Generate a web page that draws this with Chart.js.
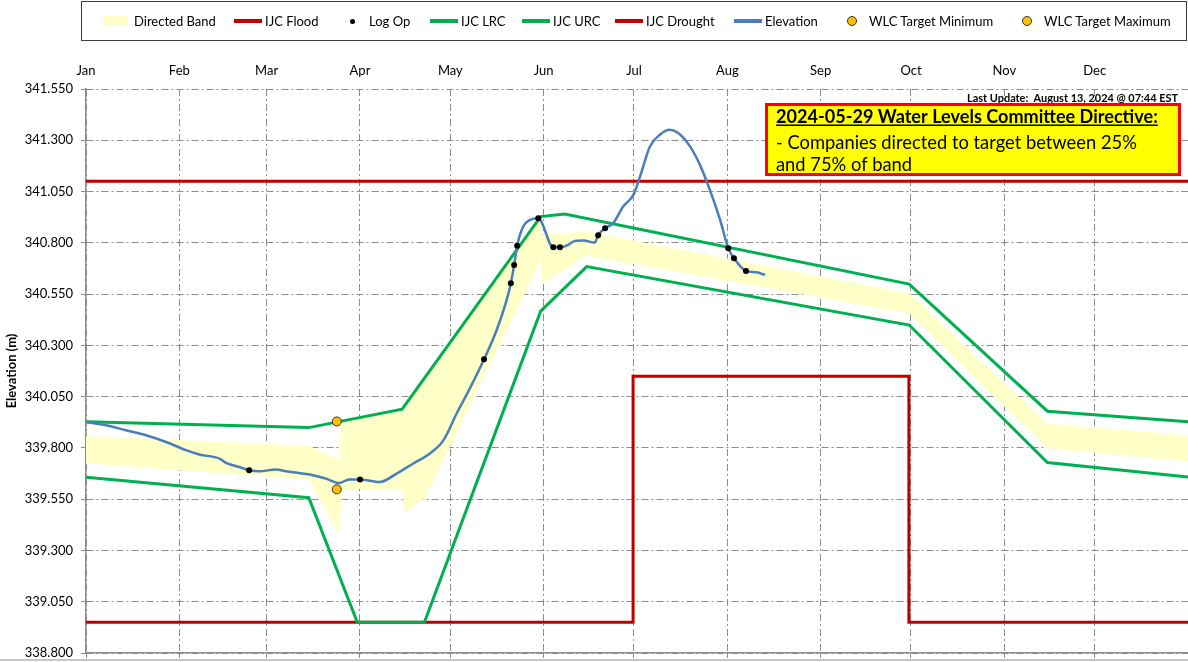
<!DOCTYPE html>
<html>
<head>
<meta charset="utf-8">
<title>Water Levels - Elevation</title>
<script src="https://cdn.jsdelivr.net/npm/chart.js@4.4.1/dist/chart.umd.min.js"></script>
<style>
  body { margin: 0; background: #fff; }
  #wrap { position: relative; width: 1188px; height: 662px; overflow: hidden; }
  #levelsChart { position: absolute; left: 0; top: 0; }
  #legend {
    position: absolute; left: 81px; top: 1px; width: 1106px; height: 40px;
    border: 1.5px solid #3c3c3c; box-sizing: border-box;
    font-family: Lato, "Open Sans", sans-serif; font-size: 13px; color: #000;
  }
  .item { position: absolute; top: 0; height: 100%; display: flex; align-items: center; white-space: nowrap; }
  .mark { width: 28px; height: 12px; position: relative; margin-right: 3px; flex: none; }
  .mark.band::after { content: ''; position: absolute; left: 0; top: 1px; width: 25px; height: 10px; background: var(--c); }
  .mark.line::after { content: ''; position: absolute; left: 0; top: 4px; width: 28px; height: 4px; background: var(--c); }
  .mark.dot::after { content: ''; position: absolute; left: 12px; top: 4px; width: 5px; height: 5px; border-radius: 50%; background: var(--c); }
  .mark.target::after { content: ''; position: absolute; left: 9px; top: 1px; width: 8px; height: 8px; border-radius: 50%; background: var(--c); border: 1px solid #333; }
</style>
</head>
<body>
<div id="wrap">
  <canvas id="levelsChart" width="1188" height="662"></canvas>
  <div id="legend"></div>
</div>
<script>
// axis ticks (day of year, 2024)
const monthNames = ['Jan', 'Feb', 'Mar', 'Apr', 'May', 'Jun', 'Jul', 'Aug', 'Sep', 'Oct', 'Nov', 'Dec'];
const monthStarts = [0, 31, 60, 91, 121, 152, 182, 213, 244, 274, 305, 335];
const yTicks = [338.8, 339.05, 339.3, 339.55, 339.8, 340.05, 340.3, 340.55, 340.8, 341.05, 341.3, 341.55];

// IJC limits
const floodDays = [0, 366];
const floodLevels = [341.10, 341.10];
const droughtDays = [0, 181.7, 181.7, 273.3, 273.3, 366];
const droughtLevels = [338.95, 338.95, 340.15, 340.15, 338.95, 338.95];
const urcDays = [0, 74, 105, 151, 159, 273.4, 319.3, 366];
const urcLevels = [339.928, 339.899, 339.989, 340.928, 340.940, 340.599, 339.979, 339.927];
const lrcDays = [0, 74, 90.1, 112.4, 151, 166.3, 273.4, 319.3, 366];
const lrcLevels = [339.657, 339.557, 338.95, 338.95, 340.467, 340.684, 340.399, 339.729, 339.658];

// directed band
const bandDays = [0, 74.2, 84.1, 84.9, 105.1, 105.4, 112.4, 151, 151.6, 166.3, 273.4, 319.3, 366];
const bandUpper = [339.858, 339.810, 339.740, 339.930, 339.990, 339.996, 340.141, 340.928, 340.840, 340.855, 340.553, 339.919, 339.862];
const bandLower = [339.725, 339.645, 339.374, 339.600, 339.600, 339.480, 339.553, 340.710, 340.600, 340.737, 340.456, 339.797, 339.732];

// observed elevation
const elevDays = [0, 6.6, 13.3, 19.9, 26.6, 33.2, 37.6, 44.3, 46.5, 50.9, 54.2, 57.6, 63.1, 66.4, 75.3, 79.7, 84.1, 87.4,
  91.0, 97.6, 103.2, 108.7, 114.2, 118.7, 123.1, 127.5, 132.2, 136.4, 139.7, 141.1, 142.2, 143.2, 145.2, 147.5, 150.2,
  155.2, 157.4, 160.2, 161.8, 165.2, 169.0, 170.1, 172.4, 175.1, 178.4, 181.8, 184.0, 187.3, 190.6, 193.9, 196.7,
  200.6, 203.9, 207.2, 210.6, 213.3, 215.2, 219.2, 222.7, 225.5];
const elevLevels = [339.926, 339.910, 339.886, 339.862, 339.829, 339.789, 339.768, 339.748, 339.727, 339.707, 339.691, 339.686, 339.695, 339.686, 339.667, 339.650, 339.629, 339.646,
  339.646, 339.634, 339.675, 339.724, 339.773, 339.837, 339.968, 340.090, 340.232, 340.375, 340.521, 340.603, 340.692, 340.786, 340.879, 340.912, 340.920,
  340.778, 340.778, 340.790, 340.806, 340.811, 340.801, 340.837, 340.871, 340.896, 340.977, 341.034, 341.123, 341.270, 341.327, 341.351, 341.335,
  341.270, 341.180, 341.058, 340.912, 340.774, 340.725, 340.663, 340.656, 340.643];

// log operations and WLC targets
const logDays = [54.2, 91.0, 132.2, 141.1, 142.2, 143.2, 150.2, 155.2, 157.4, 170.1, 172.4, 213.3, 215.2, 219.2];
const logLevels = [339.691, 339.646, 340.232, 340.603, 340.692, 340.786, 340.920, 340.778, 340.778, 340.837, 340.871, 340.774, 340.725, 340.663];
const wlcDays = [83.3];
const wlcMinLevels = [339.598];
const wlcMaxLevels = [339.929];

const FONT = 'Lato, "Open Sans", sans-serif';
const GREEN = '#00B050', RED = '#C00000', BLUE = '#4A7EBB', BAND = '#FFFFC8', GOLD = '#FFC000';
const GRID = '#8c8c8c';
const lastUpdate = 'Last Update:  August 13, 2024 @ 07:44 EST';
const noteTitle = '2024-05-29 Water Levels Committee Directive:';
const noteLines = ['- Companies directed to target between 25%', 'and 75% of band'];

function pts(days, levels) {
    return days.map((d, i) => ({ x: d, y: levels[i] }));
}

function fitFont(ctx, text, weight, target) {
    ctx.font = weight + ' 20px ' + FONT;
    const w = ctx.measureText(text).width;
    return weight + ' ' + (20 * target / w).toFixed(2) + 'px ' + FONT;
}

// directive note + stamp
const notePlugin = {
    id: 'directiveNote',
    afterDraw(chart) {
        const { ctx, chartArea } = chart;
        ctx.save();
        ctx.fillStyle = '#000';
        ctx.textAlign = 'right';
        ctx.textBaseline = 'alphabetic';
        ctx.font = fitFont(ctx, lastUpdate, 'bold', 211);
        ctx.fillText(lastUpdate, chartArea.right - 10, chartArea.top + 13);

        const bx = chartArea.right - 421.5, by = chartArea.top + 15.5;
        ctx.fillStyle = '#FFFF00';
        ctx.fillRect(bx, by, 413, 70);
        ctx.strokeStyle = '#FF0000';
        ctx.lineWidth = 3;
        ctx.strokeRect(bx, by, 413, 70);

        ctx.fillStyle = '#000';
        ctx.textAlign = 'left';
        const tx = bx + 9.5;
        ctx.font = fitFont(ctx, noteTitle, 'bold', 382);
        ctx.fillText(noteTitle, tx, by + 18);
        const tw = ctx.measureText(noteTitle).width;
        ctx.fillRect(tx, by + 20, tw, 1.5);
        ctx.font = fitFont(ctx, noteLines[0], 'normal', 361);
        ctx.fillText(noteLines[0], tx, by + 44.5);
        ctx.fillText(noteLines[1], tx, by + 66);

        ctx.fillStyle = '#c8c8c8';
        ctx.fillRect(0, chart.height - 3, chart.width, 2);
        ctx.restore();
    }
};

const ctx = document.getElementById('levelsChart');
const chart = new Chart(ctx, {
    type: 'line',
    data: {
        datasets: [
            { label: 'Directed Band', data: pts(bandDays, bandUpper), borderWidth: 0, pointRadius: 0, backgroundColor: BAND, fill: '+1', order: 20 },
            { label: 'Directed Band (low)', data: pts(bandDays, bandLower), borderWidth: 0, pointRadius: 0, fill: false, order: 21 },
            { label: 'IJC Flood', data: pts(floodDays, floodLevels), borderColor: RED, borderWidth: 3, pointRadius: 0, order: 8 },
            { label: 'IJC LRC', data: pts(lrcDays, lrcLevels), borderColor: GREEN, borderWidth: 3, pointRadius: 0, order: 6 },
            { label: 'IJC URC', data: pts(urcDays, urcLevels), borderColor: GREEN, borderWidth: 3, pointRadius: 0, order: 5 },
            { label: 'IJC Drought', data: pts(droughtDays, droughtLevels), borderColor: RED, borderWidth: 3, pointRadius: 0, order: 7 },
            { label: 'Elevation', data: pts(elevDays, elevLevels), borderColor: BLUE, borderWidth: 2.5, pointRadius: 0, cubicInterpolationMode: 'monotone', order: 3 },
            { label: 'Log Op', data: pts(logDays, logLevels), showLine: false, pointRadius: 3, pointBackgroundColor: '#000', pointBorderWidth: 0, order: 1 },
            { label: 'WLC Target Minimum', data: pts(wlcDays, wlcMinLevels), showLine: false, pointRadius: 4.5, pointBackgroundColor: GOLD, pointBorderColor: '#333', pointBorderWidth: 1, order: 0 },
            { label: 'WLC Target Maximum', data: pts(wlcDays, wlcMaxLevels), showLine: false, pointRadius: 4.5, pointBackgroundColor: GOLD, pointBorderColor: '#333', pointBorderWidth: 1, order: 0 }
        ]
    },
    options: {
        responsive: false,
        animation: false,
        events: [],
        layout: { autoPadding: false, padding: { top: 45, right: 0, bottom: 0, left: 0 } },
        plugins: {
            legend: { display: false },
            tooltip: { enabled: false },
            filler: { drawTime: 'beforeDatasetsDraw' }
        },
        scales: {
            x: {
                type: 'linear', position: 'top', min: 0, max: 366,
                afterBuildTicks: axis => { axis.ticks = monthStarts.map(value => ({ value })); },
                afterFit: axis => { axis.height = 44; },
                ticks: {
                    autoSkip: false, maxRotation: 0, padding: 10, color: '#000',
                    font: { family: FONT, size: 13 },
                    callback: value => monthNames[monthStarts.indexOf(value)]
                },
                grid: { color: GRID, lineWidth: 1, drawTicks: false },
                border: { display: false, dash: [7, 3, 2, 3] }
            },
            x2: {
                type: 'linear', position: 'bottom', min: 0, max: 366,
                afterBuildTicks: axis => { axis.ticks = monthStarts.map(value => ({ value })); },
                afterFit: axis => { axis.height = 9; },
                ticks: { display: false },
                grid: { drawOnChartArea: false, tickLength: 5, tickColor: GRID },
                border: { color: GRID, width: 1.5 }
            },
            y: {
                min: 338.8, max: 341.55,
                afterBuildTicks: axis => { axis.ticks = yTicks.map(value => ({ value })); },
                afterFit: axis => {
                    axis.width = 86;
                    axis.paddingTop = 0;
                    axis.paddingBottom = 0;
                },
                ticks: {
                    padding: 8, color: '#000',
                    font: { family: FONT, size: 13 },
                    callback: value => value.toFixed(3)
                },
                grid: { color: GRID, lineWidth: 1, tickLength: 5, tickColor: GRID },
                border: { color: GRID, width: 1.5, dash: [7, 3, 2, 3] },
                title: {
                    display: true, text: 'Elevation (m)', color: '#000',
                    font: { family: FONT, size: 13, weight: 'bold' },
                    padding: { top: 4, bottom: 0 }
                }
            }
        }
    },
    plugins: [notePlugin]
});

// legend strip above the chart
const legendKinds = ['band', 'line', 'dot', 'line', 'line', 'line', 'line', 'target', 'target'];
const legendLeft = [21, 152, 256, 348, 440, 533, 652, 756, 931];
const legendSets = [0, 2, 7, 3, 4, 5, 6, 8, 9];
const legendEl = document.getElementById('legend');
legendSets.forEach((di, i) => {
    const ds = chart.data.datasets[di];
    const color = legendKinds[i] === 'band' ? ds.backgroundColor
        : (legendKinds[i] === 'line' ? ds.borderColor : ds.pointBackgroundColor);
    const item = document.createElement('div');
    item.className = 'item';
    item.style.left = legendLeft[i] + 'px';
    item.innerHTML = '<span class="mark ' + legendKinds[i] + '" style="--c:' + color + '"></span><span>' + ds.label + '</span>';
    legendEl.appendChild(item);
});
</script>
</body>
</html>
